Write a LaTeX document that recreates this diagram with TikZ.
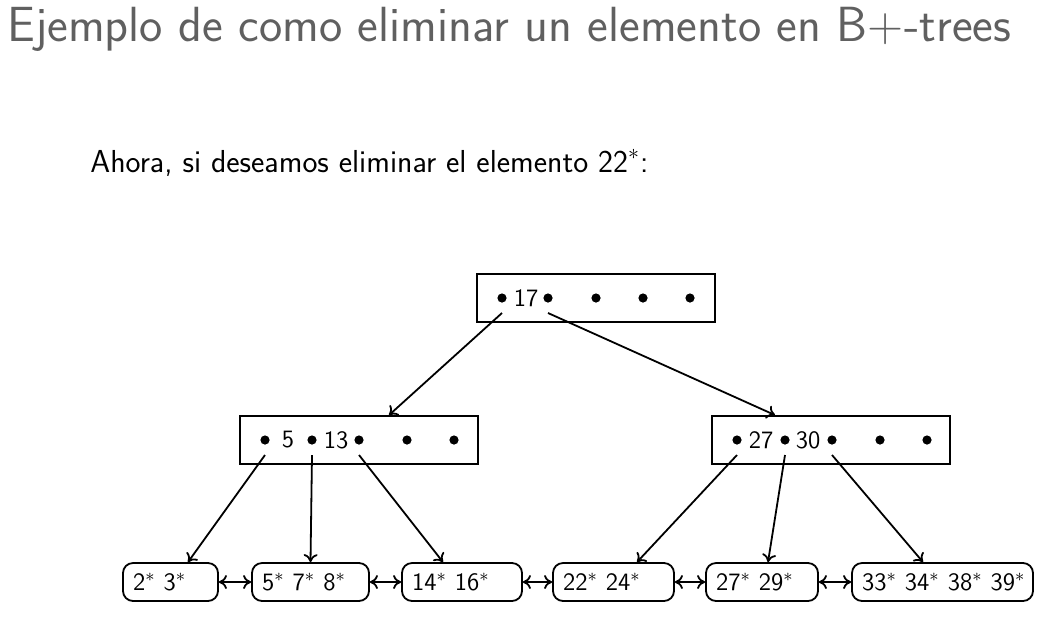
\documentclass[tikz,border=0pt]{standalone}
\usepackage{fontspec}
\usetikzlibrary{arrows.meta}
\definecolor{titlegray}{RGB}{96,96,96}
\newcommand{\lf}[2]{\makebox[#1][l]{#2}}
\begin{document}
\begin{tikzpicture}[x=0.5pt,y=-0.5pt,
  inner/.style={draw,line width=0.9pt,minimum width=119pt,minimum height=24pt,inner sep=0pt},
  leaf/.style={draw,line width=0.9pt,rounded corners=5pt,minimum height=19pt,inner xsep=5pt,inner ysep=0pt,font=\sffamily\fontsize{12.5pt}{15pt}\selectfont},
  ptr/.style={circle,fill=black,inner sep=0pt,minimum size=4.6pt},
  key/.style={inner sep=0pt,font=\sffamily\fontsize{12.5pt}{14pt}\selectfont},
  arr/.style={line width=0.9pt,-{To[length=4pt,width=7pt]}},
  link/.style={line width=0.9pt,{To[length=4pt,width=7pt]}-{To[length=4pt,width=7pt]}}
]
\useasboundingbox (0,0) rectangle (1043,618);
% title and text
\node[anchor=base west,inner sep=0pt,text=titlegray,font=\sffamily\fontsize{24.7pt}{28pt}\selectfont] (title) at (7,41) {Ejemplo de como eliminar un elemento en B+-trees};
\node[anchor=base west,inner sep=0pt,font=\sffamily\fontsize{15.9pt}{19pt}\selectfont] (intro) at (90,172) {Ahora, si deseamos eliminar el elemento 22$^*$:};
% internal nodes
\node[inner] (top) at (596,298) {};
\node[inner] (ml) at (359,440) {};
\node[inner] (mr) at (831,440) {};
% top pointers and keys
\node[ptr] (t0) at (502,298) {};
\node[key] (k17) at (526,298) {17};
\node[ptr] (t1) at (548,298) {};
\node[ptr] (t2) at (596,298) {};
\node[ptr] (t3) at (643,298) {};
\node[ptr] (t4) at (690,298) {};
% middle left
\node[ptr] (l0) at (265,440) {};
\node[key] (k5) at (288,440) {5};
\node[ptr] (l1) at (312,440) {};
\node[key] (k13) at (336,440) {13};
\node[ptr] (l2) at (359,440) {};
\node[ptr] (l3) at (407,440) {};
\node[ptr] (l4) at (454,440) {};
% middle right
\node[ptr] (r0) at (737,440) {};
\node[key] (k27) at (761,440) {27};
\node[ptr] (r1) at (785,440) {};
\node[key] (k30) at (808,440) {30};
\node[ptr] (r2) at (832,440) {};
\node[ptr] (r3) at (880,440) {};
\node[ptr] (r4) at (927,440) {};
% leaves
\node[leaf] (a) at (170.5,582) {\lf{37.5pt}{2$^*$ 3$^*$}};
\node[leaf] (b) at (310.5,582) {\lf{48.5pt}{5$^*$ 7$^*$ 8$^*$}};
\node[leaf] (c) at (462,582) {\lf{50pt}{14$^*$ 16$^*$}};
\node[leaf] (d) at (613.5,582) {\lf{50.5pt}{22$^*$ 24$^*$}};
\node[leaf] (e) at (762,582) {\lf{46pt}{27$^*$ 29$^*$}};
\node[leaf] (f) at (942.5,582) {\lf{80.5pt}{33$^*$ 34$^*$ 38$^*$ 39$^*$}};
% tree arrows
\draw[arr] ([yshift=-7.5pt]t0.center) -- ([xshift=15pt]ml.north);
\draw[arr] ([yshift=-7.5pt]t1.center) -- ([xshift=-28pt]mr.north);
\draw[arr] ([yshift=-7.5pt]l0.center) -- ([xshift=8.75pt]a.north);
\draw[arr] ([yshift=-7.5pt]l1.center) -- ([xshift=0pt]b.north);
\draw[arr] ([yshift=-7.5pt]l2.center) -- ([xshift=-9.5pt]c.north);
\draw[arr] ([yshift=-7.5pt]r0.center) -- ([xshift=11.75pt]d.north);
\draw[arr] ([yshift=-7.5pt]r1.center) -- ([xshift=3pt]e.north);
\draw[arr] ([yshift=-7.5pt]r2.center) -- ([xshift=-9.75pt]f.north);
% leaf links
\draw[link] (a.east) -- (b.west);
\draw[link] (b.east) -- (c.west);
\draw[link] (c.east) -- (d.west);
\draw[link] (d.east) -- (e.west);
\draw[link] (e.east) -- (f.west);
\end{tikzpicture}
\end{document}
